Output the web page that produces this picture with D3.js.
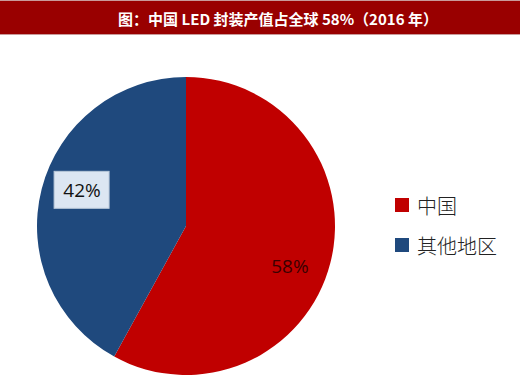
<!DOCTYPE html>
<html>
<head>
<meta charset="utf-8">
<script src="https://cdn.jsdelivr.net/npm/d3@7"></script>
<style>
  body { margin: 0; background: #fff; }
</style>
</head>
<body>
<div id="chart"></div>
<script>
// chart data
var categories = ["中国", "其他地区"]
var shares = [58, 42]
var labels = ["58%", "42%"]
var titleText = "图：中国 LED 封装产值占全球 58%（2016 年）"

var width = 520
var height = 378
var cx = 186, cy = 226
var radius = 149

var colors = d3.scaleOrdinal()
    .domain(categories)
    .range(["#c00000", "#1f497d"])

var svg = d3.select("#chart")
  .append("svg")
    .attr("width", width)
    .attr("height", height)

// title bar
svg.append("rect")
    .attr("x", 0).attr("y", 0)
    .attr("width", width).attr("height", 35)
    .attr("fill", "#c99a9a")
svg.append("rect")
    .attr("x", 0).attr("y", 1)
    .attr("width", width).attr("height", 33)
    .attr("fill", "#990000")
svg.append("text")
    .attr("x", 278).attr("y", 18)
    .attr("text-anchor", "middle")
    .attr("dominant-baseline", "central")
    .attr("fill", "#fff")
    .style("font-family", "'Noto Sans CJK SC', sans-serif")
    .style("font-weight", "bold")
    .style("font-size", "15px")
    .text(titleText)

var data = categories.map(function(c, i) { return {key: c, value: shares[i], label: labels[i]} })

var pie = d3.pie()
    .value(function(d) { return d.value })
    .sort(null)

var arc = d3.arc()
    .innerRadius(0)
    .outerRadius(radius)

var labelArc = d3.arc()
    .innerRadius(radius * 0.72)
    .outerRadius(radius * 0.72)

var g = svg.append("g")
    .attr("transform", "translate(" + cx + "," + cy + ")")

var arcs = pie(data)

g.selectAll("path")
  .data(arcs)
  .enter().append("path")
    .attr("d", arc)
    .attr("fill", function(d) { return colors(d.data.key) })

// label nudges so they sit where Excel put them
var nudge = [[0, 13], [0, -9]]

var lab = g.selectAll(".lab")
  .data(arcs)
  .enter().append("g")
    .attr("class", "lab")
    .attr("transform", function(d, i) {
      var c = labelArc.centroid(d)
      return "translate(" + (c[0] + nudge[i][0]) + "," + (c[1] + nudge[i][1]) + ")"
    })

lab.filter(function(d, i) { return i == 1 })
  .append("rect")
    .attr("x", -28).attr("y", -19)
    .attr("width", 55).attr("height", 37)
    .attr("fill", "#dce6f2")
    .attr("stroke", "#b8c7d9")
    .attr("stroke-width", 1)

lab.append("text")
    .attr("text-anchor", "middle")
    .attr("dominant-baseline", "central")
    .attr("fill", function(d, i) { return i == 0 ? "#3a0000" : "#111" })
    .style("font-family", "'Open Sans', 'Liberation Sans', sans-serif")
    .style("font-size", "19px")
    .text(function(d) { return d.data.label })

// legend
var legend = svg.selectAll(".legend")
  .data(categories)
  .enter().append("g")
    .attr("class", "legend")
    .attr("transform", function(d, i) { return "translate(395," + (198 + i * 40) + ")" })

legend.append("rect")
    .attr("width", 14).attr("height", 14)
    .attr("fill", function(d) { return colors(d) })

legend.append("text")
    .attr("x", 22).attr("y", 7)
    .attr("dominant-baseline", "central")
    .attr("fill", "#222")
    .style("font-family", "'Noto Sans CJK SC', sans-serif")
    .style("font-weight", "300")
    .style("font-size", "20px")
    .text(function(d) { return d })
</script>
</body>
</html>
